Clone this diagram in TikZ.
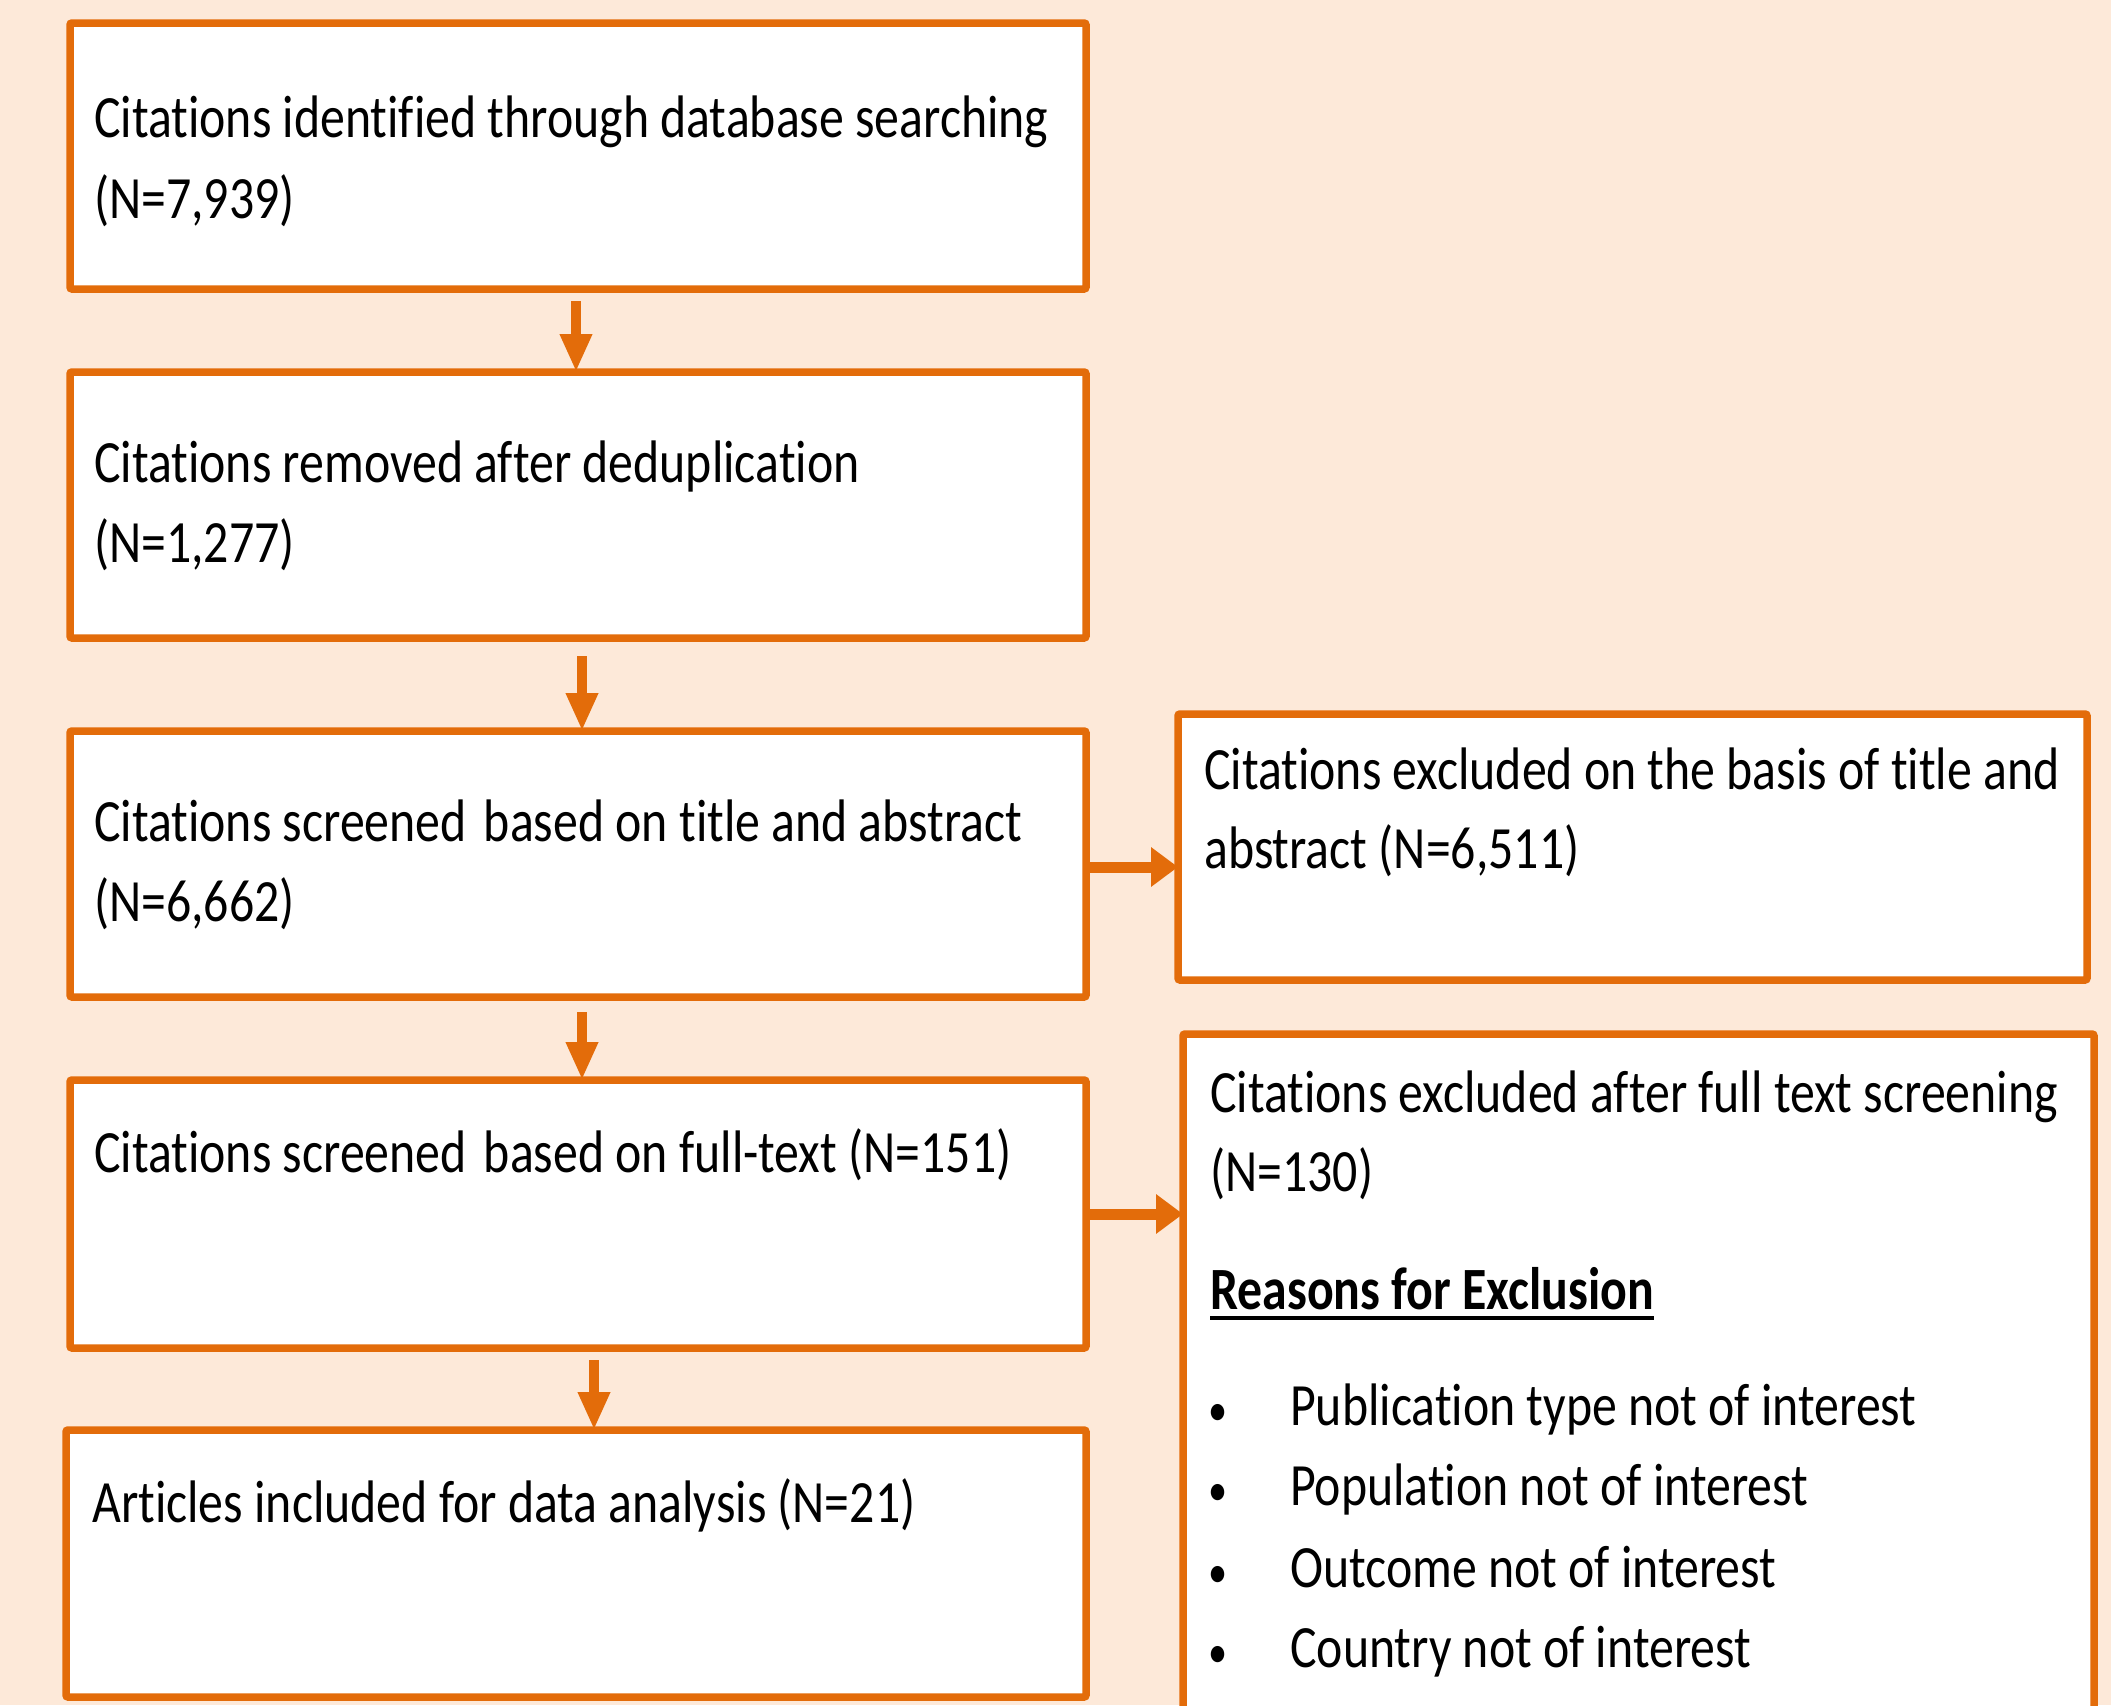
\documentclass[tikz,border=0pt]{standalone}
\usepackage{fontspec}
\setmainfont[FakeStretch=0.83,Ligatures=NoCommon]{Carlito}
\usetikzlibrary{arrows.meta,calc}
\definecolor{peach}{HTML}{FDE9D9}
\definecolor{accent}{HTML}{E36C0A}
\begin{document}
\begin{tikzpicture}[x=1pt,y=-1pt,
  box/.style={draw=accent,line width=7.5pt,fill=white,rounded corners=2pt,outer sep=0pt,inner sep=0pt,anchor=north west},
  txt/.style={anchor=base west,inner sep=0pt,font=\fontsize{60}{81}\selectfont},
  bul/.style={anchor=base,inner sep=0pt,font=\fontsize{46}{81}\selectfont},
  darr/.style={draw=accent,line width=10pt,-{Triangle[width=30pt,length=38pt]}},
  rarr/.style={draw=accent,line width=11pt,-{Triangle[width=38pt,length=27pt]}}]
\useasboundingbox (0,0) rectangle (2111,1705);
\clip (0,0) rectangle (2111,1705);
\fill[peach] (0,0) rectangle (2111,1705);
% boxes
\node[box,minimum width=1016pt,minimum height=266pt] (b1) at (70,23) {};
\node[box,minimum width=1016pt,minimum height=266pt] (b2) at (70,372) {};
\node[box,minimum width=1016pt,minimum height=266pt] (b3) at (70,731) {};
\node[box,minimum width=1016pt,minimum height=268pt] (b4) at (70,1080) {};
\node[box,minimum width=1020pt,minimum height=267pt] (b5) at (66,1430) {};
\node[box,minimum width=909pt,minimum height=266pt] (bA) at (1178,714) {};
\node[box,minimum width=911pt,minimum height=720pt] (bB) at (1183,1034) {};
% texts
\node[txt] (t1a) at (94,137) {Citations identified through database searching};
\node[txt] (t1b) at (94,218) {(N=7,939)};
\node[txt] (t2a) at (94,482) {Citations removed after deduplication};
\node[txt] (t2b) at (94,562) {(N=1,277)};
\node[txt] (t3a) at (94,841) {Citations screened\hspace{6pt} based on title and abstract};
\node[txt] (t3b) at (94,921) {(N=6,662)};
\node[txt] (t4) at (94,1172) {Citations screened\hspace{6pt} based on full-text (N=151)};
\node[txt] (t5) at (92,1522) {Articles included for data analysis (N=21)};
\node[txt] (tAa) at (1204,789) {Citations excluded on the basis of title and};
\node[txt] (tAb) at (1204,868) {abstract (N=6,511)};
\node[txt] (tBa) at (1210,1112) {Citations excluded after full text screening};
\node[txt] (tBb) at (1210,1191) {(N=130)};
\node[txt,font=\fontsize{60}{81}\selectfont\bfseries] (reason) at (1210,1309) {Reasons for Exclusion};
\draw[line width=4pt] ([yshift=-9pt]reason.base west) -- ([yshift=-9pt]reason.base east);
\node[bul] (u1) at (1218,1425) {•};
\node[txt] (r1) at (1290,1425) {Publication type not of interest};
\node[bul] (u2) at (1218,1505) {•};
\node[txt] (r2) at (1290,1505) {Population not of interest};
\node[bul] (u3) at (1218,1587) {•};
\node[txt] (r3) at (1290,1587) {Outcome not of interest};
\node[bul] (u4) at (1218,1667) {•};
\node[txt] (r4) at (1290,1667) {Country not of interest};
% arrows
\draw[darr] ([xshift=-2pt,yshift=-12pt]b1.south) coordinate (s1) -- (s1 |- b2.north);
\draw[darr] ([xshift=4pt,yshift=-18pt]b2.south) coordinate (s2) -- (s2 |- b3.north);
\draw[darr] ([xshift=4pt,yshift=-15pt]b3.south) coordinate (s3) -- (s3 |- b4.north);
\draw[darr] ([xshift=16pt,yshift=-12pt]b4.south) coordinate (s4) -- (s4 |- b5.north);
\draw[rarr] ([yshift=-3pt]b3.east) coordinate (s5) -- (s5 -| bA.west);
\draw[rarr] ([xshift=4pt]b4.east) coordinate (s6) -- (s6 -| bB.west);
\end{tikzpicture}
\end{document}
